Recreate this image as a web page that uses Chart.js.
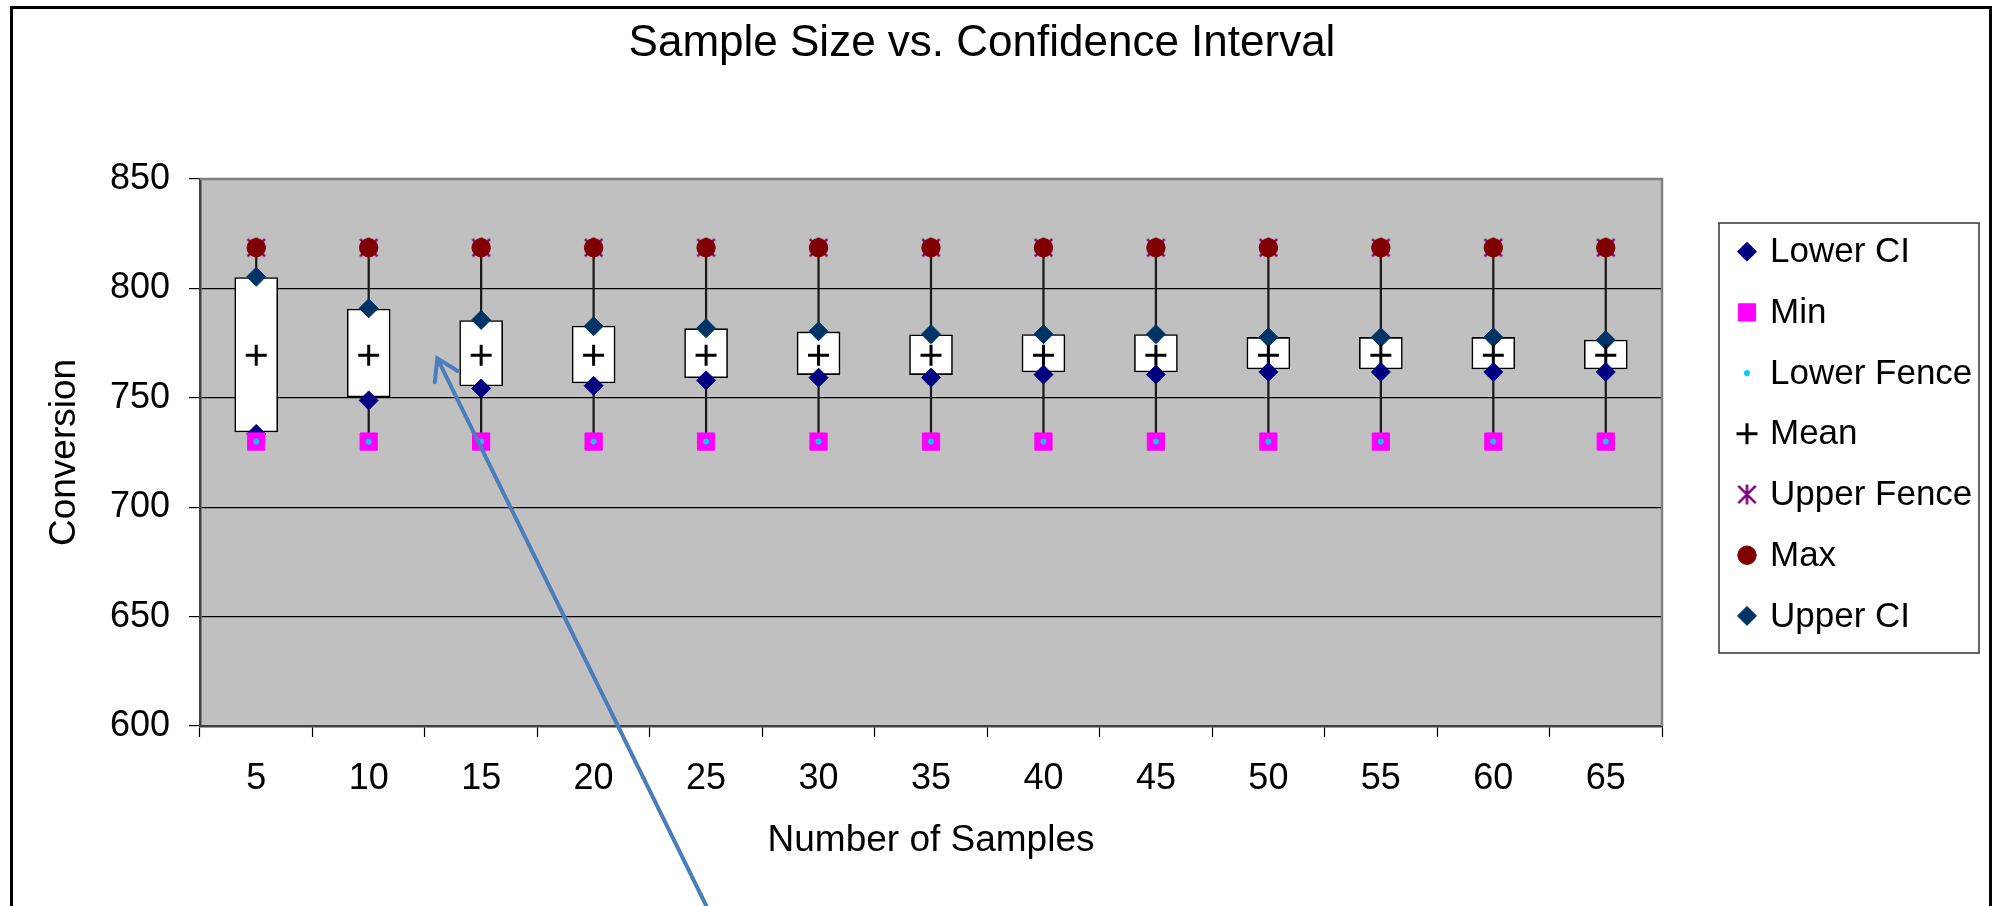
<!DOCTYPE html>
<html>
<head>
<meta charset="utf-8">
<title>Sample Size vs. Confidence Interval</title>
<script src="https://cdn.jsdelivr.net/npm/chart.js@4.4.1/dist/chart.umd.min.js"></script>
<style>
  html, body { margin: 0; padding: 0; background: #fff; }
  #wrap { width: 1997px; height: 906px; }
</style>
</head>
<body>
<div id="wrap"><canvas id="chart" width="1997" height="906"></canvas></div>
<script>
// --- DATA ---
const sampleSizes = ["5", "10", "15", "20", "25", "30", "35", "40", "45", "50", "55", "60", "65"];
const lowerCI = [733.5, 748.8, 754.3, 755.5, 758, 759.2, 759.2, 760.6, 760.6, 761.8, 761.8, 761.8, 761.8];
const upperCI = [805.3, 790.9, 785.6, 782.7, 781.8, 780.4, 779.1, 779.1, 779.1, 777.7, 777.7, 777.7, 776.4];
const boxLow = [734.4, 750.4, 755.4, 756.8, 759.2, 760.6, 760.6, 761.8, 761.8, 763.2, 763.2, 763.2, 763.2];
const boxHigh = [805, 790.6, 785.3, 782.8, 781.6, 780.1, 778.8, 778.9, 778.9, 777.6, 777.6, 777.6, 776.4];
const meanVals = [769.5, 769.5, 769.5, 769.5, 769.5, 769.5, 769.5, 769.5, 769.5, 769.5, 769.5, 769.5, 769.5];
const minVals = [730, 730, 730, 730, 730, 730, 730, 730, 730, 730, 730, 730, 730];
const lowerFence = [730, 730, 730, 730, 730, 730, 730, 730, 730, 730, 730, 730, 730];
const upperFence = [818.6, 818.6, 818.6, 818.6, 818.6, 818.6, 818.6, 818.6, 818.6, 818.6, 818.6, 818.6, 818.6];
const maxVals = [818.6, 818.6, 818.6, 818.6, 818.6, 818.6, 818.6, 818.6, 818.6, 818.6, 818.6, 818.6, 818.6];

// the hand-drawn arrow, in (category index, value) units
const arrowTip = { index: 1.61, value: 768 };
const arrowTail = { index: 4.0, value: 518 };

const FONT = '"Liberation Sans", Arial, sans-serif';

// Excel style asterisk marker (X with a vertical stroke)
function makeAsterisk(size, color, lw) {
  const c = document.createElement("canvas");
  c.width = size;
  c.height = size;
  const g = c.getContext("2d");
  g.strokeStyle = color;
  g.lineWidth = lw;
  const m = lw * 0.7;
  g.beginPath();
  g.moveTo(m, m); g.lineTo(size - m, size - m);
  g.moveTo(size - m, m); g.lineTo(m, size - m);
  g.moveTo(size / 2, 0.5); g.lineTo(size / 2, size - 0.5);
  g.stroke();
  return c;
}

function pointSeries(label, data, style, radius, fill, stroke, bw, order) {
  return {
    type: "line",
    label: label,
    data: data,
    showLine: false,
    pointStyle: style,
    pointRadius: radius,
    pointHoverRadius: radius,
    pointBackgroundColor: fill,
    pointBorderColor: stroke,
    pointBorderWidth: bw,
    order: order,
    inLegend: true,
  };
}

// --- PLUGINS ---
const frame = {
  id: "frame",
  beforeDraw(chart) {
    const { ctx, chartArea: a } = chart;
    ctx.save();
    ctx.fillStyle = "#fff";
    ctx.fillRect(0, 0, chart.width, chart.height);
    ctx.fillStyle = "#C0C0C0";
    ctx.fillRect(a.left, a.top, a.right - a.left, a.bottom - a.top);
    ctx.restore();
  },
  beforeDatasetsDraw(chart) {
    const { ctx, chartArea: a } = chart;
    ctx.save();
    ctx.strokeStyle = "#808080";
    ctx.lineWidth = 2.5;
    ctx.beginPath();
    ctx.moveTo(a.left, a.top);
    ctx.lineTo(a.right, a.top);
    ctx.lineTo(a.right, a.bottom);
    ctx.stroke();
    ctx.restore();
  },
  afterDraw(chart) {
    const { ctx, chartArea: a } = chart;
    const xs = chart.scales.x, ys = chart.scales.y;

    // arrow annotation
    const tx = xs.getPixelForValue(arrowTip.index), ty = ys.getPixelForValue(arrowTip.value);
    const ex = xs.getPixelForValue(arrowTail.index), ey = ys.getPixelForValue(arrowTail.value);
    const ang = Math.atan2(ey - ty, ex - tx);
    ctx.save();
    ctx.strokeStyle = "#4A7EBB";
    ctx.lineWidth = 4;
    ctx.lineCap = "round";
    ctx.beginPath();
    ctx.moveTo(ex, ey);
    ctx.lineTo(tx, ty);
    ctx.moveTo(tx + 24 * Math.cos(ang + 0.56), ty + 24 * Math.sin(ang + 0.56));
    ctx.lineTo(tx, ty);
    ctx.lineTo(tx + 24 * Math.cos(ang - 0.56), ty + 24 * Math.sin(ang - 0.56));
    ctx.stroke();
    ctx.restore();

    // legend
    const lx = a.right + 57, ly = 223, lw = 260, lh = 430;
    ctx.save();
    ctx.strokeStyle = "#333";
    ctx.lineWidth = 1.5;
    ctx.strokeRect(lx, ly, lw, lh);
    ctx.font = "35px " + FONT;
    ctx.textBaseline = "middle";
    ctx.textAlign = "left";
    let row = 0;
    chart.data.datasets.forEach((ds) => {
      if (!ds.inLegend) return;
      const cy = ly + 28.7 + row * 60.7;
      ctx.save();
      ctx.fillStyle = ds.pointBackgroundColor;
      ctx.strokeStyle = ds.pointBorderColor;
      ctx.lineWidth = ds.pointBorderWidth;
      Chart.helpers.drawPoint(ctx, {
        pointStyle: ds.pointStyle,
        radius: ds.pointRadius,
        rotation: 0,
        borderWidth: ds.pointBorderWidth,
      }, lx + 28, cy);
      ctx.restore();
      ctx.fillStyle = "#000";
      ctx.fillText(ds.label, lx + 51, cy + 1);
      row++;
    });
    ctx.restore();

    // outer chart border
    ctx.save();
    ctx.strokeStyle = "#000";
    ctx.lineWidth = 3;
    ctx.strokeRect(11.5, 7.5, 1979, 980);
    ctx.restore();
  },
};

// --- CHART ---
const asterisk = makeAsterisk(21, "#800080", 2.6);

new Chart(document.getElementById("chart"), {
  type: "bar",
  data: {
    labels: sampleSizes,
    datasets: [
      pointSeries("Lower CI", lowerCI, "rectRot", 9.5, "#000080", "#000080", 1, 2),
      pointSeries("Min", minVals, "rect", 12.2, "#FF00FF", "#FF00FF", 1, 1),
      pointSeries("Lower Fence", lowerFence, "circle", 2.6, "#00CCFF", "#00CCFF", 1, 0),
      pointSeries("Mean", meanVals, "cross", 10.5, "#000", "#000", 3, 2),
      pointSeries("Upper Fence", upperFence, asterisk, 10.5, "#800080", "#800080", 0, 3),
      pointSeries("Max", maxVals, "circle", 9.2, "#800000", "#800000", 1, 1),
      pointSeries("Upper CI", upperCI, "rectRot", 9.5, "#003366", "#003366", 1, 2),
      {
        label: "Box",
        data: boxLow.map((v, i) => [v, boxHigh[i]]),
        backgroundColor: "#fff",
        borderColor: "#000",
        borderWidth: 1.6,
        borderSkipped: false,
        barThickness: 43,
        grouped: false,
        order: 8,
      },
      {
        label: "Whisker",
        data: minVals.map((v, i) => [v, maxVals[i]]),
        backgroundColor: "#1a1a1a",
        borderWidth: 0,
        barThickness: 1.6,
        grouped: false,
        order: 9,
      },
    ],
  },
  options: {
    responsive: false,
    animation: false,
    devicePixelRatio: 1,
    layout: { padding: { left: 0, right: 33, top: 0, bottom: 0 } },
    plugins: {
      legend: { display: false },
      tooltip: { enabled: false },
      title: {
        display: true,
        text: "Sample Size vs. Confidence Interval",
        color: "#000",
        font: { family: FONT, size: 44, weight: "normal", lineHeight: 1.2 },
        padding: { top: 17.6, bottom: 108.6 },
      },
    },
    scales: {
      x: {
        offset: true,
        afterFit: (s) => { s.height = 180; },
        grid: {
          offset: true,
          drawOnChartArea: false,
          drawTicks: true,
          tickLength: 11,
          tickColor: "#000",
          tickWidth: 1.2,
        },
        border: { display: true, color: "#404040", width: 2.5 },
        ticks: { color: "#000", padding: 20, font: { family: FONT, size: 36 } },
        title: {
          display: true,
          text: "Number of Samples",
          color: "#000",
          font: { family: FONT, size: 37, lineHeight: 1.2 },
          padding: { top: 0, bottom: 43 },
        },
      },
      y: {
        min: 600,
        max: 850,
        afterFit: (s) => { s.width = 200; },
        grid: {
          color: (c) => (c.tick && c.tick.value === 850 ? "rgba(0,0,0,0)" : "#000"),
          lineWidth: 1.2,
          drawTicks: true,
          tickLength: 11,
          tickColor: "#000",
          tickWidth: 1.2,
        },
        border: { display: true, color: "#404040", width: 2.5 },
        ticks: {
          stepSize: 50,
          color: "#000",
          padding: 19,
          font: { family: FONT, size: 36 },
        },
        title: {
          display: true,
          text: "Conversion",
          color: "#000",
          font: { family: FONT, size: 37, lineHeight: 1.2 },
          padding: { top: 43, bottom: 0 },
        },
      },
      // empty axis that only reserves the room on the right for the legend
      spacer: {
        position: "right",
        display: true,
        afterFit: (s) => { s.width = 302; },
        grid: { display: false, drawTicks: false },
        border: { display: false },
        ticks: { display: false },
      },
    },
  },
  plugins: [frame],
});
</script>
</body>
</html>
